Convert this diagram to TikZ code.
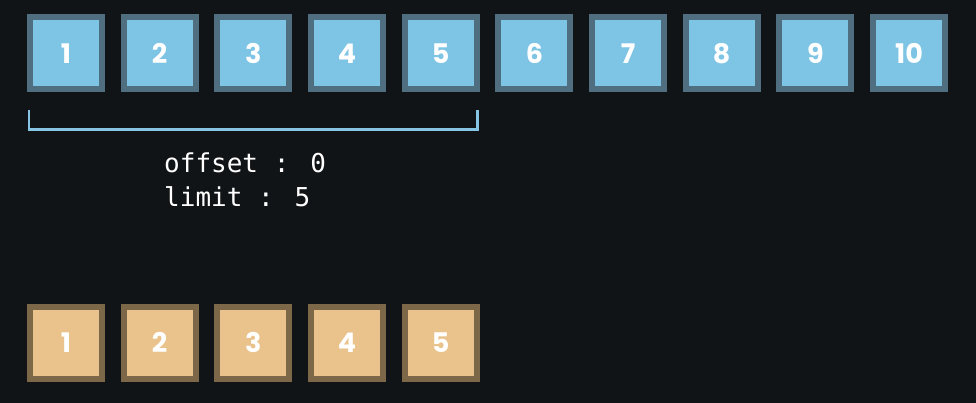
\documentclass[tikz,border=0pt]{standalone}
\usepackage{fontspec}
\setmainfont{Poppins}
\newfontfamily\codefont{DejaVu Sans Mono}
\usetikzlibrary{positioning}
\definecolor{bgdark}{HTML}{111417}
\definecolor{cellblue}{HTML}{7EC4E4}
\definecolor{edgeblue}{HTML}{4F6E80}
\definecolor{cellsand}{HTML}{E9C38B}
\definecolor{edgesand}{HTML}{7D6749}
\definecolor{bracketblue}{HTML}{86C6E4}
\tikzset{
  cell/.style={shape=rectangle, minimum size=72pt, inner sep=0pt, line width=6pt,
    text=white, font=\fontsize{27}{30}\selectfont\bfseries},
  rowcell/.style={cell, draw=edgeblue, fill=cellblue},
  pagecell/.style={cell, draw=edgesand, fill=cellsand},
  bracket/.style={draw=bracketblue, line width=2.5pt}
}
\begin{document}
\begin{tikzpicture}[x=1pt, y=-1pt]
\fill[bgdark] (0,0) rectangle (976,403);
\useasboundingbox (0,0) rectangle (976,403);
% all rows
\foreach \i in {1,...,10} {
  \node[rowcell] (t\i) at ({66+(\i-1)*93.67}, 53.5) {\i};
}
% the page
\foreach \i in {1,...,5} {
  \node[pagecell] (b\i) at ({66+(\i-1)*93.67}, 342.5) {\i};
}
% bracket under the first page
\coordinate[below=18pt of t1.south west, xshift=2pt] (bl);
\coordinate[below=18pt of t5.south east, xshift=-2pt] (br);
\draw[bracket] (bl) -- ++(0,19) -| (br);
\node[anchor=north west, inner sep=0pt, align=left, text=white,
  font=\codefont\fontsize{26}{34}\selectfont] (params) at (164,153)
  {offset : 0\\limit : 5};
\end{tikzpicture}
\end{document}
